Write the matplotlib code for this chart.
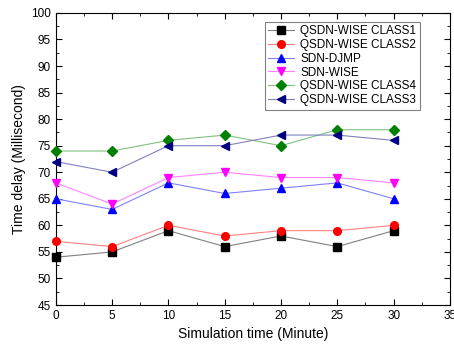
import matplotlib
matplotlib.use("Agg")
import matplotlib.pyplot as plt
from matplotlib.ticker import MultipleLocator

plt.rcParams['font.family'] = ['Liberation Sans', 'DejaVu Sans']

# data
time_min = [0, 5, 10, 15, 20, 25, 30]
class1 = [54, 55, 59, 56, 58, 56, 59]
class2 = [57, 56, 60, 58, 59, 59, 60]
sdn_djmp = [65, 63, 68, 66, 67, 68, 65]
sdn_wise = [68, 64, 69, 70, 69, 69, 68]
class4 = [74, 74, 76, 77, 75, 78, 78]
class3 = [72, 70, 75, 75, 77, 77, 76]

series = [
    ("QSDN-WISE CLASS1", class1, 's', '#000000', '#808080'),
    ("QSDN-WISE CLASS2", class2, 'o', '#ff0000', '#ff8080'),
    ("SDN-DJMP", sdn_djmp, '^', '#0000ff', '#8080ff'),
    ("SDN-WISE", sdn_wise, 'v', '#ff00ff', '#ff80ff'),
    ("QSDN-WISE CLASS4", class4, 'D', '#008000', '#80c080'),
    ("QSDN-WISE CLASS3", class3, '<', '#000080', '#8080c0'),
]

fig = plt.figure(figsize=(4.54, 3.49), dpi=100)
ax = fig.add_axes([0.123, 0.126, 0.868, 0.837])

for label, vals, mk, mc, lc in series:
    ax.plot(time_min, vals, color=lc, linewidth=0.8, marker=mk,
            markersize=5.5 if mk != 'D' else 5, markerfacecolor=mc,
            markeredgecolor=mc, label=label, clip_on=False, zorder=3)

ax.set_xlim(0, 35)
ax.set_ylim(45, 100)
ax.xaxis.set_major_locator(MultipleLocator(5))
ax.xaxis.set_minor_locator(MultipleLocator(2.5))
ax.yaxis.set_major_locator(MultipleLocator(5))
ax.yaxis.set_minor_locator(MultipleLocator(2.5))
ax.tick_params(which='both', direction='in', top=True, right=True, labelsize=8.5)
ax.tick_params(which='major', length=4)
ax.tick_params(which='minor', length=2)

ax.set_xlabel("Simulation time (Minute)", fontsize=10)
ax.set_ylabel("Time delay (Millisecond)", fontsize=10)

leg = ax.legend(loc='upper left', bbox_to_anchor=(0.515, 0.99), fontsize=8.5,
                frameon=True, fancybox=False, edgecolor='#606060',
                handlelength=2.2, borderpad=0.3, labelspacing=0.15,
                handletextpad=0.5)
leg.get_frame().set_linewidth(0.8)

fig.savefig("out.png", dpi=100)
